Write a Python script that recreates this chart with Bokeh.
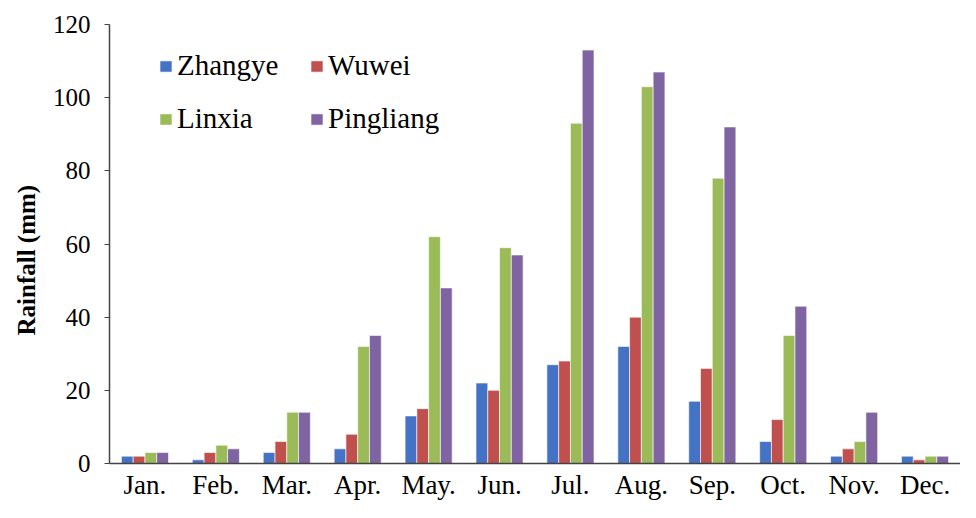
from bokeh.plotting import figure
from bokeh.models import ColumnDataSource, FactorRange, Range1d, Legend, LegendItem, SingleIntervalTicker, Title
from bokeh.transform import dodge
from bokeh.embed import file_html
from bokeh.resources import INLINE

months = ["Jan.", "Feb.", "Mar.", "Apr.", "May.", "Jun.", "Jul.", "Aug.", "Sep.", "Oct.", "Nov.", "Dec."]
zhangye = [2, 1, 3, 4, 13, 22, 27, 32, 17, 6, 2, 2]
wuwei = [2, 3, 6, 8, 15, 20, 28, 40, 26, 12, 4, 1]
linxia = [3, 5, 14, 32, 62, 59, 93, 103, 78, 35, 6, 2]
pingliang = [3, 4, 14, 35, 48, 57, 113, 107, 92, 43, 14, 2]

series = [("Zhangye", zhangye, "#4472C4"), ("Wuwei", wuwei, "#C0504D"),
          ("Linxia", linxia, "#9BBB59"), ("Pingliang", pingliang, "#8064A2")]

src = ColumnDataSource(dict(month=months, Zhangye=zhangye, Wuwei=wuwei, Linxia=linxia, Pingliang=pingliang))

p = figure(width=960, height=502, x_range=FactorRange(*months, range_padding=0),
           y_range=Range1d(0, 120), output_backend="svg", toolbar_location=None,
           min_border_left=108, min_border_right=0, min_border_top=24, min_border_bottom=39)
p.outline_line_color = None
p.xgrid.grid_line_color = None
p.ygrid.grid_line_color = None

bw = 0.166
offsets = [-1.5 * bw, -0.5 * bw, 0.5 * bw, 1.5 * bw]
rend = {}
for (name, vals, col), off in zip(series, offsets):
    r = p.vbar(x=dodge("month", off, range=p.x_range), top=name, width=bw, source=src,
               fill_color=col, line_color="white", line_width=0.6)
    rend[name] = r

font = "Liberation Serif"
p.yaxis.ticker = SingleIntervalTicker(interval=20)
for ax in (p.xaxis[0], p.yaxis[0]):
    ax.major_label_text_font = font
    ax.major_label_text_color = "black"
    ax.axis_line_color = "#444444"
    ax.axis_line_width = 1.5
    ax.minor_tick_line_color = None
    ax.major_tick_line_color = "#444444"
    ax.major_tick_in = 0
    ax.major_tick_out = 5
p.yaxis.major_label_text_font_size = "25px"
p.xaxis.major_label_text_font_size = "27px"
p.xaxis.major_tick_line_color = None
p.xaxis.major_tick_out = 0
p.xaxis.major_label_standoff = 6
p.yaxis.major_label_standoff = 14

ytitle = Title(text="Rainfall (mm)", align="left", offset=128, standoff=20,
               text_font=font, text_font_style="bold", text_font_size="25px", text_color="black")
p.add_layout(ytitle, "left")

order = ["Zhangye", "Linxia", "Wuwei", "Pingliang"]
legend = Legend(items=[LegendItem(label=n, renderers=[rend[n]]) for n in order],
                ncols=2, location=(49, 328), orientation="vertical",
                glyph_width=15, glyph_height=14, label_standoff=4,
                spacing=20, padding=0, margin=0, label_width=112,
                border_line_color=None, background_fill_alpha=0,
                label_text_font=font, label_text_font_size="29px",
                label_text_color="black")
p.add_layout(legend)

open("out.html", "w").write(file_html(p, INLINE))
